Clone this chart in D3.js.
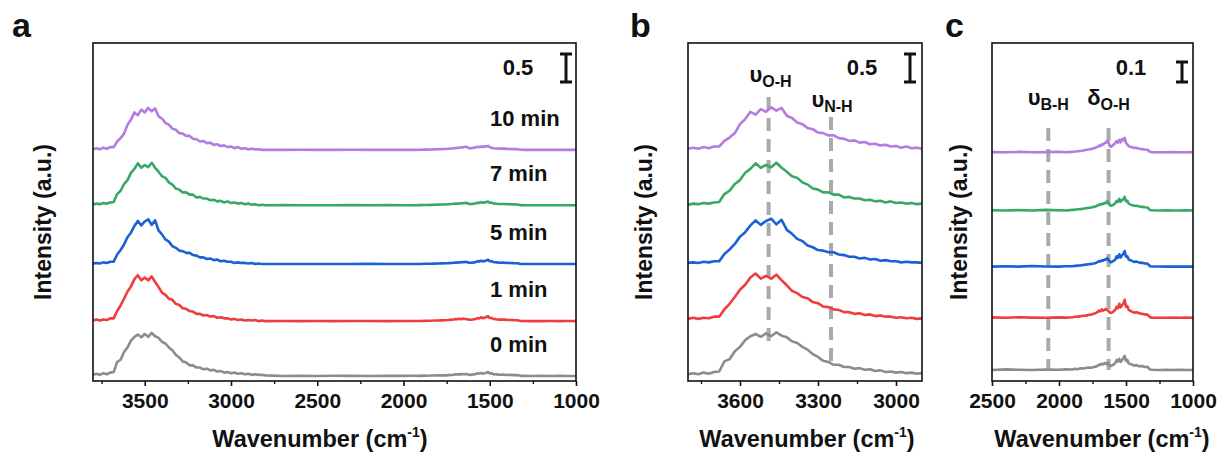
<!DOCTYPE html>
<html>
<head>
<meta charset="utf-8">
<script src="https://cdn.jsdelivr.net/npm/d3@7"></script>
<style>
  body { margin: 0; background: #fff; }
  svg { display: block; font-family: "Liberation Sans", Arial, sans-serif; font-weight: bold; }
</style>
</head>
<body>
<div id="chart"></div>
<script>
// sample labels and trace colours, bottom to top
const times = ["0 min", "1 min", "5 min", "7 min", "10 min"];
const colors = ["#8c8c8c", "#ef3d3d", "#1c60d6", "#37a866", "#b27ce0"];

// O-H stretching region
const wnOH = [3800, 3780, 3760, 3740, 3720, 3700, 3680, 3660, 3640, 3620,
  3600, 3580, 3560, 3540, 3520, 3500, 3480, 3460, 3440, 3420,
  3400, 3380, 3360, 3340, 3320, 3300, 3280, 3260, 3240, 3220,
  3200, 3180, 3160, 3140, 3120, 3100, 3080, 3060, 3040, 3020,
  3000, 2980, 2960, 2940, 2920, 2900, 2880, 2860, 2840, 2820, 2800];

const ohGray = [0.02, 0.04, 0.02, 0.05, 0.03, 0.06, 0.07, 0.25, 0.29, 0.43,
  0.51, 0.63, 0.70, 0.74, 0.69, 0.75, 0.70, 0.77, 0.71, 0.68,
  0.61, 0.58, 0.51, 0.46, 0.38, 0.33, 0.26, 0.24, 0.19, 0.19,
  0.15, 0.15, 0.12, 0.13, 0.10, 0.11, 0.08, 0.09, 0.06, 0.07,
  0.05, 0.06, 0.04, 0.05, 0.03, 0.04, 0.02, 0.03, 0.02, 0.02, 0.01];
const ohRed = [0.01, 0.03, 0.01, 0.03, 0.02, 0.05, 0.05, 0.18, 0.28, 0.40,
  0.53, 0.62, 0.75, 0.82, 0.73, 0.78, 0.73, 0.80, 0.70, 0.61,
  0.51, 0.47, 0.40, 0.38, 0.31, 0.29, 0.23, 0.22, 0.18, 0.17,
  0.13, 0.13, 0.10, 0.11, 0.08, 0.09, 0.06, 0.07, 0.05, 0.05,
  0.03, 0.04, 0.02, 0.03, 0.01, 0.02, 0.01, 0.02, 0.00, 0.01, 0.00];
const ohBlue = [0.01, 0.02, 0.01, 0.03, 0.02, 0.04, 0.04, 0.17, 0.25, 0.35,
  0.48, 0.56, 0.68, 0.77, 0.69, 0.76, 0.80, 0.70, 0.78, 0.60,
  0.53, 0.44, 0.40, 0.32, 0.29, 0.24, 0.23, 0.20, 0.20, 0.16,
  0.15, 0.12, 0.12, 0.09, 0.10, 0.07, 0.08, 0.05, 0.06, 0.04,
  0.04, 0.02, 0.03, 0.02, 0.02, 0.01, 0.02, 0.00, 0.01, 0.00, 0.00];
const ohGreen = [0.01, 0.03, 0.02, 0.04, 0.03, 0.05, 0.06, 0.20, 0.26, 0.38,
  0.45, 0.58, 0.65, 0.75, 0.67, 0.72, 0.68, 0.76, 0.67, 0.60,
  0.52, 0.49, 0.41, 0.37, 0.30, 0.28, 0.23, 0.23, 0.19, 0.19,
  0.14, 0.15, 0.12, 0.12, 0.09, 0.10, 0.07, 0.08, 0.05, 0.07,
  0.04, 0.05, 0.03, 0.04, 0.02, 0.03, 0.01, 0.02, 0.00, 0.01, 0.00];
const ohPurple = [0.01, 0.03, 0.01, 0.04, 0.02, 0.05, 0.05, 0.15, 0.21, 0.29,
  0.45, 0.54, 0.67, 0.62, 0.72, 0.67, 0.75, 0.69, 0.74, 0.60,
  0.56, 0.48, 0.45, 0.38, 0.36, 0.30, 0.29, 0.25, 0.25, 0.20,
  0.19, 0.15, 0.16, 0.12, 0.13, 0.09, 0.10, 0.07, 0.08, 0.05,
  0.06, 0.03, 0.05, 0.02, 0.03, 0.01, 0.02, 0.01, 0.01, 0.00, 0.00];

// fingerprint region
const wnLow = [2700, 2600, 2500, 2400, 2300, 2200, 2100, 2000, 1950,
  1900, 1880, 1860, 1840, 1820, 1800, 1780, 1760, 1740, 1720,
  1710, 1700, 1690, 1680, 1670, 1660, 1650, 1640, 1630, 1620, 1610, 1600,
  1590, 1580, 1570, 1560, 1550, 1540, 1530, 1520, 1510, 1500, 1490, 1480,
  1460, 1440, 1420, 1400, 1380, 1360, 1340, 1320, 1300,
  1250, 1200, 1150, 1100, 1050, 1000];

const lowGray = [0.000, 0.002, 0.000, 0.003, 0.001, 0.000, 0.002, 0.001, 0.003,
  0.002, 0.006, 0.004, 0.008, 0.007, 0.010, 0.012, 0.011, 0.015, 0.018,
  0.022, 0.028, 0.025, 0.032, 0.028, 0.034, 0.030, 0.036, 0.030, 0.022, 0.020, 0.025,
  0.028, 0.035, 0.050, 0.042, 0.055, 0.040, 0.048, 0.058, 0.070, 0.045, 0.050, 0.032,
  0.028, 0.022, 0.024, 0.018, 0.020, 0.015, 0.016, 0.002, 0.001,
  0.000, 0.001, 0.000, 0.001, 0.000, 0.000];
const lowRed = [0.001, 0.000, 0.002, 0.000, 0.003, 0.001, 0.000, 0.002, 0.001,
  0.003, 0.005, 0.006, 0.008, 0.010, 0.011, 0.014, 0.016, 0.020, 0.026,
  0.030, 0.036, 0.032, 0.042, 0.036, 0.040, 0.044, 0.038, 0.034, 0.026, 0.024, 0.028,
  0.034, 0.040, 0.055, 0.048, 0.070, 0.052, 0.062, 0.072, 0.090, 0.055, 0.058, 0.040,
  0.032, 0.026, 0.028, 0.022, 0.020, 0.017, 0.016, 0.002, 0.001,
  0.000, 0.000, 0.001, 0.000, 0.001, 0.000];
const lowBlue = [0.000, 0.001, 0.000, 0.002, 0.000, 0.003, 0.001, 0.000, 0.002,
  0.002, 0.004, 0.005, 0.006, 0.008, 0.010, 0.012, 0.014, 0.016, 0.020,
  0.024, 0.028, 0.026, 0.032, 0.030, 0.036, 0.034, 0.042, 0.034, 0.024, 0.022, 0.026,
  0.030, 0.036, 0.052, 0.044, 0.062, 0.046, 0.056, 0.064, 0.078, 0.050, 0.052, 0.036,
  0.030, 0.024, 0.025, 0.020, 0.019, 0.016, 0.015, 0.002, 0.001,
  0.001, 0.000, 0.000, 0.001, 0.000, 0.000];
const lowGreen = [0.002, 0.000, 0.001, 0.000, 0.002, 0.000, 0.003, 0.001, 0.000,
  0.003, 0.004, 0.006, 0.007, 0.009, 0.011, 0.013, 0.015, 0.018, 0.022,
  0.026, 0.030, 0.028, 0.034, 0.032, 0.038, 0.036, 0.046, 0.036, 0.026, 0.024, 0.026,
  0.030, 0.036, 0.048, 0.042, 0.058, 0.044, 0.052, 0.056, 0.068, 0.046, 0.048, 0.034,
  0.028, 0.024, 0.024, 0.020, 0.018, 0.016, 0.015, 0.002, 0.001,
  0.000, 0.001, 0.000, 0.000, 0.001, 0.000];
const lowPurple = [0.000, 0.002, 0.001, 0.000, 0.002, 0.000, 0.001, 0.003, 0.000,
  0.002, 0.004, 0.005, 0.007, 0.009, 0.012, 0.014, 0.017, 0.020, 0.025,
  0.028, 0.034, 0.032, 0.040, 0.038, 0.046, 0.048, 0.058, 0.048, 0.030, 0.028, 0.034,
  0.040, 0.046, 0.056, 0.048, 0.062, 0.050, 0.066, 0.060, 0.072, 0.046, 0.040, 0.030,
  0.026, 0.022, 0.022, 0.018, 0.016, 0.014, 0.013, 0.002, 0.001,
  0.000, 0.000, 0.001, 0.000, 0.000, 0.001];

const ohSeries = [ohGray, ohRed, ohBlue, ohGreen, ohPurple];
const lowSeries = [lowGray, lowRed, lowBlue, lowGreen, lowPurple];

// vertical stacking offsets per panel (absorbance units)
const offsetsA = [0, 0.98, 2.0, 3.05, 4.04];
const offsetsB = [0, 1.0, 2.0, 3.04, 4.04];
const offsetsC = [0, 0.26, 0.515, 0.795, 1.085];

// tick values
const ticksA = [3500, 3000, 2500, 2000, 1500, 1000];
const minorA = [3750, 3250, 2750, 2250, 1750, 1250];
const ticksB = [3600, 3300, 3000];
const minorB = [3750, 3450, 3150];
const ticksC = [2500, 2000, 1500, 1000];
const minorC = [2250, 1750, 1250];

// band markers
const bandsB = [{ sym: "υ", sub: "O-H", wn: 3490 }, { sym: "υ", sub: "N-H", wn: 3250 }];
const bandsC = [{ sym: "υ", sub: "B-H", wn: 2080 }, { sym: "δ", sub: "O-H", wn: 1630 }];

const W = 1219, H = 452;
const plotTop = 43, plotBottom = 381;

const svg = d3.select("#chart").append("svg")
  .attr("width", W).attr("height", H);

const panel = function(cfg) {
  const x = d3.scaleLinear().domain(cfg.xDomain).range([cfg.left, cfg.right]);
  const y = d3.scaleLinear().domain(cfg.yDomain).range([plotBottom, plotTop]);
  const g = svg.append("g");

  g.append("clipPath").attr("id", "clip-" + cfg.id)
    .append("rect")
    .attr("x", cfg.left).attr("y", plotTop)
    .attr("width", cfg.right - cfg.left).attr("height", plotBottom - plotTop);

  // dashed band markers under the traces
  (cfg.bands || []).forEach((b, i) => {
    const m = cfg.bandPos[i];
    g.append("line")
      .attr("x1", x(b.wn)).attr("x2", x(b.wn))
      .attr("y1", m.y1).attr("y2", m.y2)
      .attr("stroke", "#aaaaaa")
      .attr("stroke-width", 4)
      .attr("stroke-dasharray", "13,8");
    const t = g.append("text")
      .attr("x", x(b.wn) + (m.dx || 0)).attr("y", m.ty)
      .attr("text-anchor", "middle")
      .attr("font-size", "22px")
      .attr("fill", "#111");
    t.append("tspan").text(b.sym);
    t.append("tspan").attr("font-size", "16px").attr("dy", 5).text(b.sub);
  });

  const line = off => d3.line()
    .x(d => x(d[0]))
    .y(d => y(d[1] + off));

  const traces = g.append("g").attr("clip-path", "url(#clip-" + cfg.id + ")");
  cfg.series.forEach((vals, i) => {
    traces.append("path")
      .datum(d3.zip(cfg.wn, vals))
      .attr("fill", "none")
      .attr("stroke", colors[i])
      .attr("stroke-width", 2.6)
      .attr("stroke-linejoin", "round")
      .attr("d", line(cfg.offsets[i]));
  });

  // frame
  g.append("rect")
    .attr("x", cfg.left).attr("y", plotTop)
    .attr("width", cfg.right - cfg.left).attr("height", plotBottom - plotTop)
    .attr("fill", "none").attr("stroke", "#111").attr("stroke-width", 1.6);

  const ax = g.append("g").attr("transform", `translate(0,${plotBottom})`)
    .call(d3.axisBottom(x).tickValues(cfg.ticks).tickSize(5).tickPadding(7).tickFormat(d3.format("d")));
  ax.select(".domain").remove();
  ax.selectAll("line").attr("stroke", "#111").attr("stroke-width", 1.6);
  ax.selectAll("text").attr("font-size", "21px").attr("fill", "#111")
    .attr("font-family", "Liberation Sans, Arial, sans-serif").attr("font-weight", "bold");

  const mx = g.append("g").attr("transform", `translate(0,${plotBottom})`)
    .call(d3.axisBottom(x).tickValues(cfg.minor).tickSize(3).tickFormat(""));
  mx.select(".domain").remove();
  mx.selectAll("line").attr("stroke", "#111").attr("stroke-width", 1.4);

  // axis titles
  const xt = g.append("text")
    .attr("x", cfg.titleX).attr("y", 447)
    .attr("text-anchor", "middle")
    .attr("font-size", "23.5px").attr("fill", "#111");
  xt.append("tspan").text("Wavenumber (cm");
  xt.append("tspan").attr("font-size", "14px").attr("dy", -10).text("-1");
  xt.append("tspan").attr("dy", 10).text(")");

  g.append("text")
    .attr("transform", `translate(${cfg.yTitleX},222) rotate(-90)`)
    .attr("text-anchor", "middle")
    .attr("font-size", "23px").attr("fill", "#111")
    .text("Intensity (a.u.)");

  // panel letter
  g.append("text")
    .attr("x", cfg.letterX).attr("y", 37)
    .attr("font-size", "34px").attr("fill", "#111")
    .text(cfg.letter);

  // scale bar
  const barLen = y(0) - y(cfg.bar);
  const bx = cfg.barX, by2 = 82, by1 = by2 - barLen;
  g.append("path")
    .attr("d", `M${bx - 6},${by1}H${bx + 6}M${bx},${by1}V${by2}M${bx - 6},${by2}H${bx + 6}`)
    .attr("stroke", "#111").attr("stroke-width", 3).attr("fill", "none");
  g.append("text")
    .attr("x", cfg.barLabelX).attr("y", 75)
    .attr("text-anchor", "middle")
    .attr("font-size", "22px").attr("fill", "#111")
    .text(cfg.bar);

  if (cfg.labels) {
    times.forEach((t, i) => {
      g.append("text")
        .attr("x", cfg.labelX).attr("y", y(cfg.offsets[i]) - 24)
        .attr("font-size", "22px").attr("fill", "#111")
        .text(t);
    });
  }
};

panel({
  id: "a", letter: "a", letterX: 12,
  left: 93, right: 576,
  xDomain: [3800, 1000], yDomain: [-0.09, 5.95],
  wn: wnOH.concat(wnLow),
  series: ohSeries.map((s, i) => s.concat(lowSeries[i])),
  offsets: offsetsA,
  ticks: ticksA, minor: minorA,
  titleX: 320, yTitleX: 51,
  bar: 0.5, barX: 566, barLabelX: 518,
  labels: true, labelX: 490
});

panel({
  id: "b", letter: "b", letterX: 630,
  left: 688, right: 922,
  xDomain: [3800, 2900], yDomain: [-0.1, 5.94],
  wn: wnOH, series: ohSeries,
  offsets: offsetsB,
  ticks: ticksB, minor: minorB,
  titleX: 807, yTitleX: 652,
  bar: 0.5, barX: 910, barLabelX: 862,
  bands: bandsB,
  bandPos: [{ y1: 97, y2: 347, ty: 82, dx: 2 }, { y1: 117, y2: 367, ty: 107, dx: 1 }]
});

panel({
  id: "c", letter: "c", letterX: 945,
  left: 992, right: 1193,
  xDomain: [2500, 1000], yDomain: [-0.055, 1.63],
  wn: wnLow, series: lowSeries,
  offsets: offsetsC,
  ticks: ticksC, minor: minorC,
  titleX: 1102, yTitleX: 967,
  bar: 0.1, barX: 1182, barLabelX: 1131,
  bands: bandsC,
  bandPos: [{ y1: 128, y2: 370, ty: 105 }, { y1: 128, y2: 370, ty: 105 }]
});
</script>
</body>
</html>
